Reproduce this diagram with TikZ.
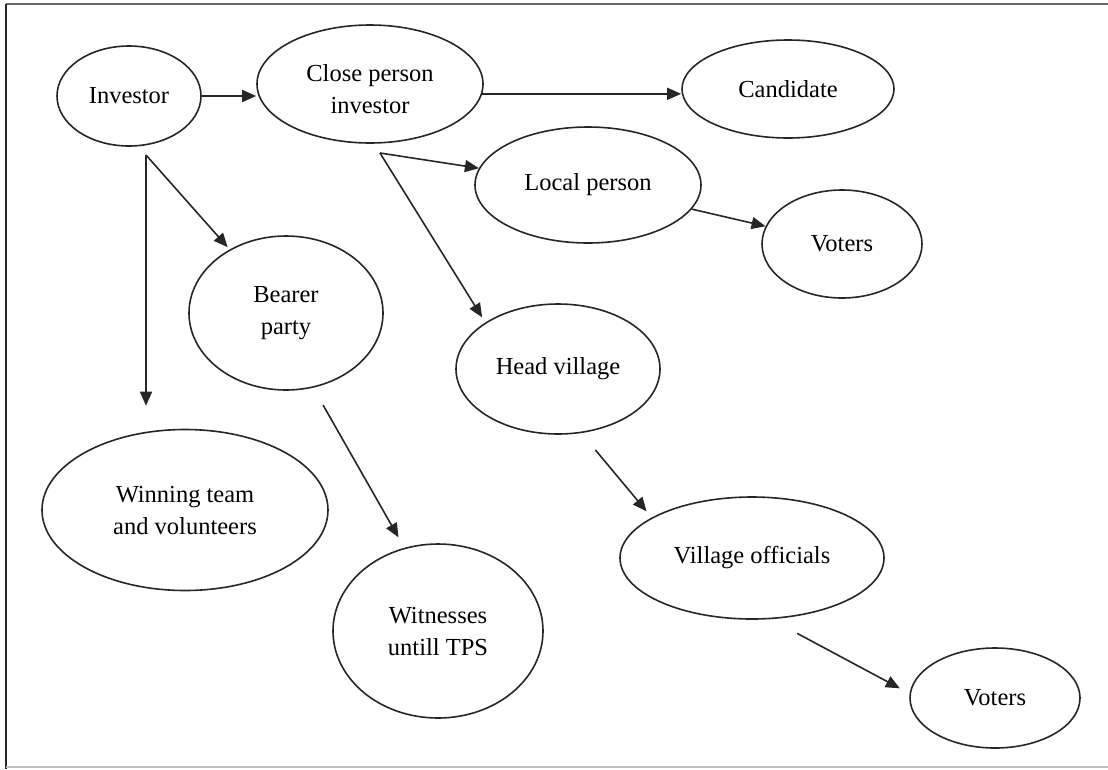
\documentclass[tikz,border=0pt]{standalone}
\usepackage{fontspec}
\setmainfont{Liberation Serif}
\usetikzlibrary{arrows.meta,shapes.geometric}

\begin{document}
\begin{tikzpicture}[x=1pt, y=-1pt,
  oval/.style={ellipse, draw=black!85, line width=1.6pt, inner sep=0pt,
               align=center, font=\fontsize{24.5}{32}\selectfont},
  arrow/.style={-{Triangle[length=14pt,width=12pt]}, line width=1.6pt, black!85}
]
\useasboundingbox (0,0) rectangle (1108,769);
% Frame
\draw[line width=2pt, black!60] (6,4) -- (1108,4);
\draw[line width=2pt, black!85] (6,4) -- (6,769);
\draw[line width=1.5pt, black!25] (6,767) -- (1108,767);

% Top row
\node[oval, minimum width=144pt, minimum height=100pt] (inv) at (129,96) {Investor};
\node[oval, minimum width=226pt, minimum height=118pt] (closeinv) at (370,84) {\raisebox{-13pt}[0pt][0pt]{\begin{tabular}{@{}c@{}}Close person\\investor\end{tabular}}};
\node[oval, minimum width=212pt, minimum height=98pt] (cand) at (788,89) {Candidate};

% Middle
\node[oval, minimum width=226pt, minimum height=116pt] (localp) at (588,185) {Local person};
\node[oval, minimum width=160pt, minimum height=108pt] (voters1) at (842,244) {Voters};
\node[oval, minimum width=194pt, minimum height=154pt] (bearer) at (286,313) {Bearer\\party};
\node[oval, minimum width=204pt, minimum height=130pt] (headv) at (558,369) {Head village};

% Bottom
\node[oval, minimum width=286pt, minimum height=161pt] (winning) at (185,510) {Winning team\\and volunteers};
\node[oval, minimum width=210pt, minimum height=174pt] (witness) at (438,631) {Witnesses\\untill TPS};
\node[oval, minimum width=264pt, minimum height=122pt] (vofficials) at (752,558) {Village officials};
\node[oval, minimum width=170pt, minimum height=100pt] (voters2) at (995,698) {Voters};

% Fork points
\coordinate (invfork) at (146,155);
\coordinate (closefork) at (380,153);

% Arrows
\draw[arrow] (inv.east) -- (inv.east -| closeinv.west);
\draw[arrow] (closeinv.-5) -- (closeinv.-5 -| cand.west);
\draw[arrow] (invfork) -- (invfork |- winning.north) [shorten >=23pt];
\draw[arrow, shorten >=3pt] (invfork) -- (bearer);
\draw[arrow] (closefork) -- (localp);
\draw[arrow, shorten >=6pt] (closefork) -- (headv.north west);
\draw[arrow] (localp) -- (voters1);
\draw[arrow, shorten <=20pt, shorten >=12pt] (bearer.-70) -- (witness.112);
\draw[arrow, shorten <=22pt, shorten >=8pt] (headv.-70) -- (vofficials.158);
\draw[arrow, shorten <=30pt, shorten >=11pt] (vofficials.-73) -- (voters2.177);
\end{tikzpicture}
\end{document}
